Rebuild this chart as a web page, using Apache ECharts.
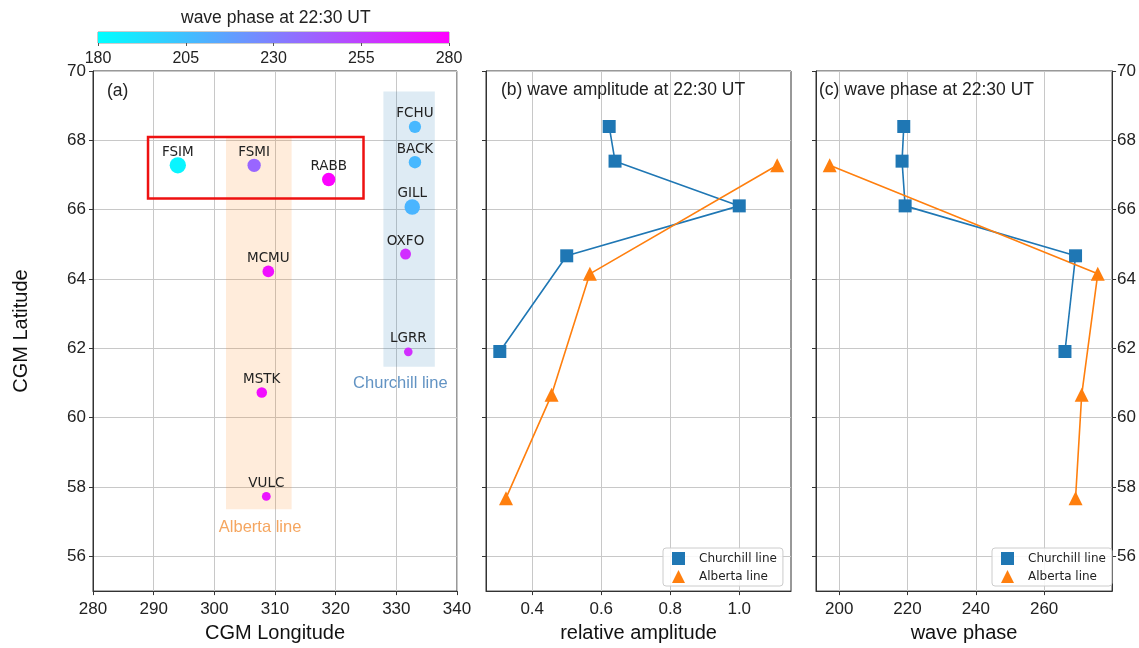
<!DOCTYPE html>
<html>
<head>
<meta charset="utf-8">
<script src="https://cdn.jsdelivr.net/npm/echarts@6/dist/echarts.min.js"></script>
<style>
  html, body { margin: 0; padding: 0; background: #ffffff; }
  #chart { width: 1139px; height: 648px; }
</style>
</head>
<body>
<div id="chart"></div>
<script>
// Magnetometer stations in CGM coordinates, with wave phase (deg) and relative amplitude at 22:30 UT
const stationNames = ['FSIM', 'FSMI', 'RABB', 'FCHU', 'BACK', 'GILL', 'OXFO', 'LGRR', 'MCMU', 'MSTK', 'VULC'];
const stationLon   = [293.98, 306.56, 318.85, 333.07, 333.07, 332.62, 331.52, 331.97, 308.90, 307.82, 308.57];
const stationLat   = [67.28, 67.28, 66.87, 68.39, 67.37, 66.08, 64.72, 61.90, 64.22, 60.73, 57.73];
const stationPhase = [184.0, 240.0, 279.0, 208.0, 208.0, 209.0, 262.0, 262.0, 274.0, 275.0, 272.0];
const stationAmp   = [1.11, 0.74, 0.74, 0.62, 0.64, 1.00, 0.50, 0.31, 0.57, 0.46, 0.32];

// Churchill line (FCHU, BACK, GILL, OXFO, LGRR)
const churchillLat   = [68.40, 67.40, 66.11, 64.67, 61.91];
const churchillAmp   = [0.623, 0.640, 1.000, 0.500, 0.306];
const churchillPhase = [218.9, 218.4, 219.3, 269.2, 266.1];

// Alberta line (FSIM, MCMU, MSTK, VULC)
const albertaLat   = [67.28, 64.15, 60.66, 57.68];
const albertaAmp   = [1.110, 0.567, 0.456, 0.324];
const albertaPhase = [197.2, 275.7, 271.0, 269.2];

// Tick values
const latTicks   = [56, 58, 60, 62, 64, 66, 68, 70];
const lonTicks   = [280, 290, 300, 310, 320, 330, 340];
const ampTicks   = [0.4, 0.6, 0.8, 1.0];
const phaseTicks = [200, 220, 240, 260];
const cbarTicks  = [180, 205, 230, 255, 280];
const cbarRange  = [180, 280];

// Highlighted regions (lon/lat extents)
const churchillBand = { lon: [327.87, 336.34], lat: [61.47, 69.41] };
const albertaBand   = { lon: [301.92, 312.74], lat: [57.36, 68.08] };
const highLatBox    = { lon: [289.07, 324.59], lat: [66.32, 68.10] };

const BLUE = '#1f77b4';
const ORANGE = '#ff7f0e';
const SANS = 'Liberation Sans, Arial, sans-serif';
const DEJAVU = 'DejaVu Sans, sans-serif';
const AXIS_COLOR = '#333333';
const GRID_COLOR = '#c8c8c8';

const chart = echarts.init(document.getElementById('chart'), null, { renderer: 'canvas' });

function pairs(xs, ys) { return xs.map((x, i) => [x, ys[i]]); }

function latAxis(gridIndex, opts) {
  return Object.assign({
    type: 'value', gridIndex: gridIndex, min: 55, max: 70,
    axisLine: { show: true, lineStyle: { color: AXIS_COLOR, width: 1 } },
    axisTick: { show: true, length: 4, customValues: latTicks, lineStyle: { color: AXIS_COLOR } },
    axisLabel: { show: false, customValues: latTicks, margin: 7, fontSize: 17, fontFamily: SANS, color: '#222' },
    splitLine: { show: true, lineStyle: { color: GRID_COLOR, width: 1 } }
  }, opts || {});
}

function valueXAxis(gridIndex, min, max, ticks, name, extra) {
  return Object.assign({
    type: 'value', gridIndex: gridIndex, min: min, max: max,
    name: name, nameLocation: 'middle', nameGap: 31,
    nameTextStyle: { fontSize: 20, fontFamily: SANS, color: '#111' },
    axisLine: { show: true, lineStyle: { color: AXIS_COLOR, width: 1 } },
    axisTick: { show: true, length: 4, customValues: ticks, lineStyle: { color: AXIS_COLOR } },
    axisLabel: { customValues: ticks, margin: 10, fontSize: 17, fontFamily: SANS, color: '#222' },
    splitLine: { show: true, lineStyle: { color: GRID_COLOR, width: 1 } }
  }, extra || {});
}

const legendIcons = {
  'Churchill line': 'path://M0,0L10,0L10,10L0,10Z',
  'Alberta line': 'path://M5,0L10,10L0,10Z'
};

function legendAt(left, top) {
  return {
    orient: 'vertical', left: left, top: top,
    data: Object.keys(legendIcons).map(n => ({ name: n, icon: legendIcons[n] })),
    itemWidth: 13, itemHeight: 13, itemGap: 5,
    symbolKeepAspect: true,
    padding: [4, 6, 3, 9],
    borderColor: '#cccccc', borderWidth: 1, borderRadius: 3,
    backgroundColor: 'rgba(255,255,255,0.85)',
    selectedMode: false,
    textStyle: { fontSize: 12, fontFamily: DEJAVU, color: '#222', padding: [0, 0, 0, 9] }
  };
}

const titleStyle = { fontSize: 17.5, fontWeight: 'normal', fontFamily: SANS, color: '#222' };

const option = {
  backgroundColor: '#ffffff',
  animation: false,
  title: [
    { text: '(a)', left: 107, top: 82, padding: 0, textStyle: titleStyle },
    { text: '(b) wave amplitude at 22:30 UT', left: 501, top: 81, padding: 0, textStyle: titleStyle },
    { text: '(c) wave phase at 22:30 UT', left: 819, top: 81, padding: 0, textStyle: titleStyle },
    { text: 'wave phase at 22:30 UT', left: 181, top: 9, padding: 0, textStyle: titleStyle }
  ],
  legend: [legendAt(663, 548), legendAt(992, 548)],
  grid: [
    { left: 93, top: 71, width: 364, height: 522, show: true, borderColor: AXIS_COLOR, borderWidth: 1, containLabel: false },
    { left: 486, top: 71, width: 305, height: 522, show: true, borderColor: AXIS_COLOR, borderWidth: 1, containLabel: false },
    { left: 816, top: 71, width: 305, height: 522, show: true, borderColor: AXIS_COLOR, borderWidth: 1, containLabel: false },
    { left: 98, top: 32, width: 351, height: 11, show: true, borderColor: '#999999', borderWidth: 1, containLabel: false }
  ],
  xAxis: [
    valueXAxis(0, 280, 340, lonTicks, 'CGM Longitude'),
    valueXAxis(1, 0.266, 1.15, ampTicks, 'relative amplitude', {
      axisLabel: { customValues: ampTicks, margin: 10, fontSize: 17, fontFamily: SANS, color: '#222', formatter: v => v.toFixed(1) }
    }),
    valueXAxis(2, 193.2, 279.9, phaseTicks, 'wave phase'),
    {
      type: 'value', gridIndex: 3, min: 180, max: 280,
      axisLine: { show: false },
      axisTick: { show: true, length: 3, customValues: cbarTicks, lineStyle: { color: '#555' } },
      axisLabel: { customValues: cbarTicks, margin: 8, fontSize: 16, fontFamily: SANS, color: '#222' },
      splitLine: { show: false }
    }
  ],
  yAxis: [
    latAxis(0, {
      name: 'CGM Latitude', nameLocation: 'middle', nameGap: 62, nameRotate: 90,
      nameTextStyle: { fontSize: 20, fontFamily: SANS, color: '#111' },
      axisLabel: { show: true, customValues: latTicks, margin: 7, fontSize: 17, fontFamily: SANS, color: '#222' }
    }),
    latAxis(1),
    latAxis(2),
    latAxis(2, {
      position: 'right', splitLine: { show: false },
      axisLabel: { show: true, customValues: latTicks, margin: 5, fontSize: 17, fontFamily: SANS, color: '#222' }
    }),
    { type: 'value', gridIndex: 3, min: 0, max: 1, show: false }
  ],
  visualMap: [{
    type: 'continuous', show: false, seriesIndex: 1, dimension: 3,
    min: 180, max: 280, inRange: { color: ['#00ffff', '#ff00ff'] }
  }],
  series: [
    // Shaded station lines
    {
      type: 'scatter', xAxisIndex: 0, yAxisIndex: 0, data: [], z: 1, silent: true,
      markArea: {
        silent: true,
        data: [
          [{ coord: [churchillBand.lon[0], churchillBand.lat[1]], itemStyle: { color: 'rgba(31,119,180,0.15)' } },
           { coord: [churchillBand.lon[1], churchillBand.lat[0]] }],
          [{ coord: [albertaBand.lon[0], albertaBand.lat[1]], itemStyle: { color: 'rgba(255,127,14,0.15)' } },
           { coord: [albertaBand.lon[1], albertaBand.lat[0]] }]
        ]
      }
    },
    // Stations coloured by phase, sized by amplitude
    {
      type: 'scatter', xAxisIndex: 0, yAxisIndex: 0, z: 3,
      data: stationNames.map((n, i) => ({ name: n, value: [stationLon[i], stationLat[i], stationAmp[i], stationPhase[i]] })),
      symbolSize: v => 15.5 * Math.sqrt(v[2]),
      itemStyle: { opacity: 1 },
      label: {
        show: true, position: 'inside', verticalAlign: 'bottom', align: 'center', offset: [0, -6],
        formatter: p => p.name, fontFamily: DEJAVU, fontSize: 13.5, color: '#222'
      },
      emphasis: { disabled: true }
    },
    // High-latitude stations box
    {
      type: 'scatter', xAxisIndex: 0, yAxisIndex: 0, data: [], z: 4, silent: true,
      markArea: {
        silent: true,
        itemStyle: { color: 'rgba(0,0,0,0)', borderColor: '#ee1111', borderWidth: 2.5 },
        data: [[{ coord: [highLatBox.lon[0], highLatBox.lat[1]] }, { coord: [highLatBox.lon[1], highLatBox.lat[0]] }]]
      }
    },
    // Line names
    {
      type: 'scatter', xAxisIndex: 0, yAxisIndex: 0, z: 4, silent: true, symbolSize: 0,
      data: [
        { value: [330.66, 61.0], label: { formatter: 'Churchill line', color: '#3b78b4' } },
        { value: [307.54, 56.84], label: { formatter: 'Alberta line', color: '#f39038' } }
      ],
      label: { show: true, position: 'inside', fontSize: 16.5, fontFamily: SANS }
    },
    // (b) relative amplitude
    {
      name: 'Churchill line', type: 'line', xAxisIndex: 1, yAxisIndex: 1,
      data: pairs(churchillAmp, churchillLat), symbol: 'rect', symbolSize: 13,
      lineStyle: { color: BLUE, width: 1.6 }, itemStyle: { color: BLUE }, z: 3
    },
    {
      name: 'Alberta line', type: 'line', xAxisIndex: 1, yAxisIndex: 1,
      data: pairs(albertaAmp, albertaLat), symbol: 'triangle', symbolSize: 14,
      lineStyle: { color: ORANGE, width: 1.6 }, itemStyle: { color: ORANGE }, z: 3
    },
    // (c) wave phase
    {
      name: 'Churchill line', type: 'line', xAxisIndex: 2, yAxisIndex: 2,
      data: pairs(churchillPhase, churchillLat), symbol: 'rect', symbolSize: 13,
      lineStyle: { color: BLUE, width: 1.6 }, itemStyle: { color: BLUE }, z: 3
    },
    {
      name: 'Alberta line', type: 'line', xAxisIndex: 2, yAxisIndex: 2,
      data: pairs(albertaPhase, albertaLat), symbol: 'triangle', symbolSize: 14,
      lineStyle: { color: ORANGE, width: 1.6 }, itemStyle: { color: ORANGE }, z: 3
    },
    // Colour bar
    {
      type: 'custom', xAxisIndex: 3, yAxisIndex: 4, silent: true, z: 1,
      data: [cbarRange], encode: { x: [0, 1] },
      renderItem: function (params, api) {
        const p0 = api.coord([api.value(0), 0]);
        const p1 = api.coord([api.value(1), 1]);
        return {
          type: 'rect',
          shape: { x: p0[0], y: p1[1], width: p1[0] - p0[0], height: p0[1] - p1[1] },
          style: {
            fill: new echarts.graphic.LinearGradient(0, 0, 1, 0, [
              { offset: 0, color: '#00ffff' }, { offset: 1, color: '#ff00ff' }
            ])
          }
        };
      }
    }
  ]
};

chart.setOption(option);
</script>
</body>
</html>
